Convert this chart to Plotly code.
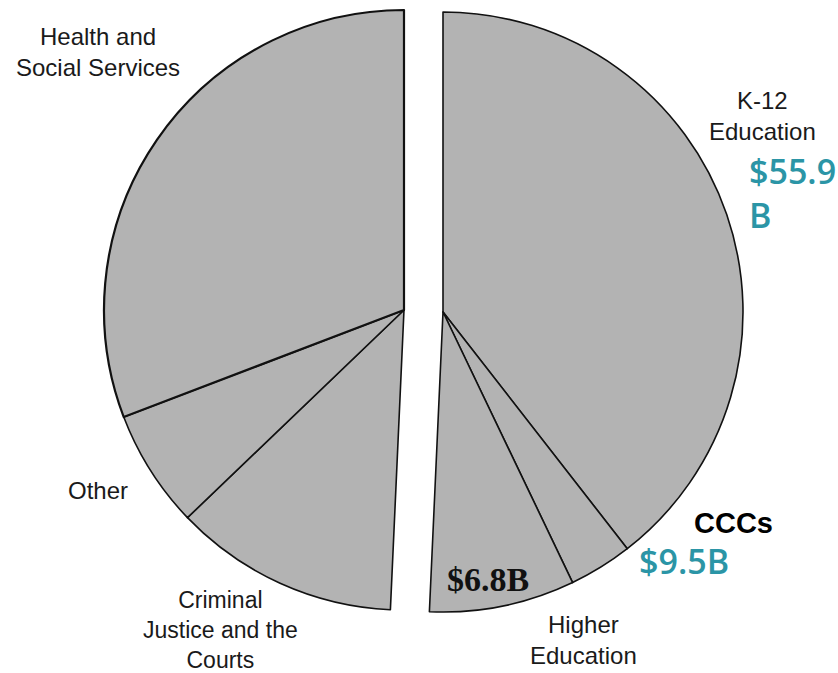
import plotly.graph_objects as go

# Slice shares (degrees of the full circle), clockwise from 12 o'clock
right_labels = ["K-12 Education", "CCCs", "Higher Education"]
right_values = [142.1, 12.3, 28.2]
left_labels = ["Criminal Justice and the Courts", "Other", "Health and Social Services"]
left_values = [43.6, 22.9, 110.9]

FILL = "#b3b3b3"
EDGE = "#111111"
TEAL = "#2b95a6"

W, H = 838, 673
R = 300

def domain(cx, cy):
    yb = H - cy
    return dict(x=[(cx - R) / W, (cx + R) / W], y=[(yb - R) / H, (yb + R) / H])

fig = go.Figure()

# right half: its slices + invisible remainder
fig.add_trace(go.Pie(
    labels=right_labels + ["_r"],
    values=right_values + [sum(left_values)],
    sort=False, direction="clockwise", rotation=0,
    marker=dict(colors=[FILL] * 3 + ["rgba(0,0,0,0)"],
                line=dict(color=[EDGE] * 3 + ["rgba(0,0,0,0)"], width=[1.6] * 3 + [0])),
    textinfo="none", hoverinfo="skip", showlegend=False,
    domain=domain(443, 312),
))

# left half: invisible remainder + its slices
fig.add_trace(go.Pie(
    labels=["_l"] + left_labels,
    values=[sum(right_values)] + left_values,
    sort=False, direction="clockwise", rotation=0,
    marker=dict(colors=["rgba(0,0,0,0)"] + [FILL] * 3,
                line=dict(color=["rgba(0,0,0,0)"] + [EDGE] * 3, width=[0] + [1.6, 1.6, 2.2])),
    textinfo="none", hoverinfo="skip", showlegend=False,
    domain=domain(404, 310),
))

def ann(text, x, y, size, color="#1a1a1a", family="Liberation Sans, Arial, sans-serif",
        align="center", xanchor="center", weight="normal"):
    fig.add_annotation(text=text, x=x / W, y=1 - y / H, xref="paper", yref="paper",
                       showarrow=False, align=align, xanchor=xanchor, yanchor="middle",
                       font=dict(size=size, color=color, family=family, weight=weight))

ann("Health and<br>Social Services", 98, 52, 24)
ann("K-12<br>Education", 762, 116, 24)
ann("Other", 98, 490, 24)
ann("Criminal<br>Justice and the<br>Courts", 221, 630, 23)
ann("Higher<br>Education", 583, 640, 24)
ann("CCCs", 733, 523, 29, color="#000000", weight="bold")
ann("$9.5B", 684, 561, 34, color=TEAL, family="Open Sans, sans-serif", weight=600)
ann("$55.9<br>B", 747, 193, 34, color=TEAL, family="Open Sans, sans-serif",
    align="left", xanchor="left", weight=600)
ann("$6.8B", 488, 579, 34, color="#111111", family="Liberation Serif, Times New Roman, serif",
    weight="bold")

fig.update_layout(width=W, height=H, margin=dict(l=0, r=0, t=0, b=0),
                  paper_bgcolor="white", plot_bgcolor="white")

fig.write_html("out.html")
